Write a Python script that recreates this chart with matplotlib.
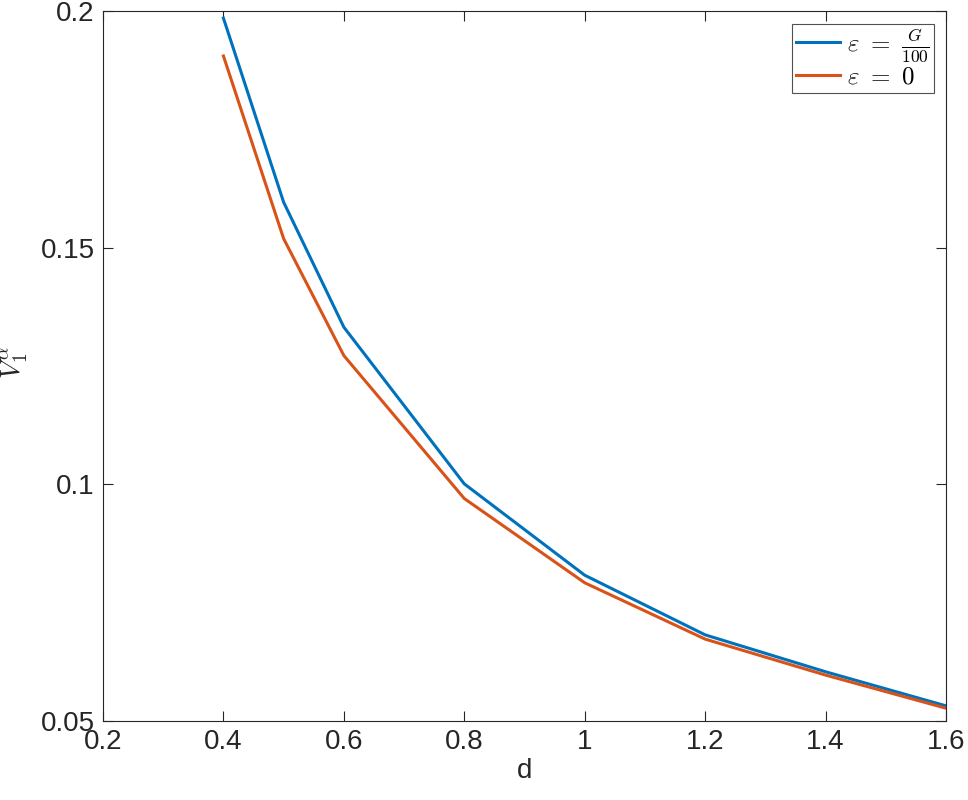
import matplotlib
matplotlib.use("Agg")
import matplotlib.pyplot as plt

plt.rcParams['font.family'] = ['Liberation Sans', 'DejaVu Sans']
plt.rcParams['mathtext.fontset'] = 'cm'

d = [0.4, 0.5, 0.6, 0.8, 1.0, 1.2, 1.4, 1.6]
v_eps = [0.1985, 0.1596, 0.1332, 0.1001, 0.0808, 0.0682, 0.0604, 0.0532]
v_zero = [0.1905, 0.1519, 0.1272, 0.0970, 0.0792, 0.0673, 0.0597, 0.0527]
xticks = [0.2, 0.4, 0.6, 0.8, 1.0, 1.2, 1.4, 1.6]
xticklabels = ['0.2', '0.4', '0.6', '0.8', '1', '1.2', '1.4', '1.6']
yticks = [0.05, 0.1, 0.15, 0.2]
yticklabels = ['0.05', '0.1', '0.15', '0.2']

fig = plt.figure(figsize=(9.68, 8.0), dpi=100)
ax = fig.add_axes([103/968, 1-721/800, (946-103)/968, (721-11)/800])

ax.plot(d, v_eps, color='#0072BD', lw=2.2, label=r'$\varepsilon\ =\ \frac{G}{100}$')
ax.plot(d, v_zero, color='#D95319', lw=2.2, label=r'$\varepsilon\ =\ 0$')

ax.set_xlim(0.2, 1.6)
ax.set_ylim(0.05, 0.2)
ax.set_xticks(xticks)
ax.set_xticklabels(xticklabels)
ax.set_yticks(yticks)
ax.set_yticklabels(yticklabels)
ax.tick_params(direction='in', top=True, right=True, length=7, width=0.8,
               colors='#262626', labelsize=20, pad=6)
for s in ax.spines.values():
    s.set_color('#262626')
    s.set_linewidth(0.8)

ax.set_xlabel('d', fontsize=20, color='#262626', labelpad=2)
ax.set_ylabel(r'$V_1^{\alpha}$', fontsize=20, color='#262626')
ax.yaxis.set_label_coords(-0.0854, 0.505)

leg = ax.legend(loc='upper right', fontsize=18, frameon=True, fancybox=False,
                edgecolor='#262626', handlelength=1.75, handletextpad=0.3,
                borderpad=0.15, labelspacing=0.05, borderaxespad=0.5)
leg.get_frame().set_linewidth(0.8)

fig.savefig('out.png', dpi=100)
